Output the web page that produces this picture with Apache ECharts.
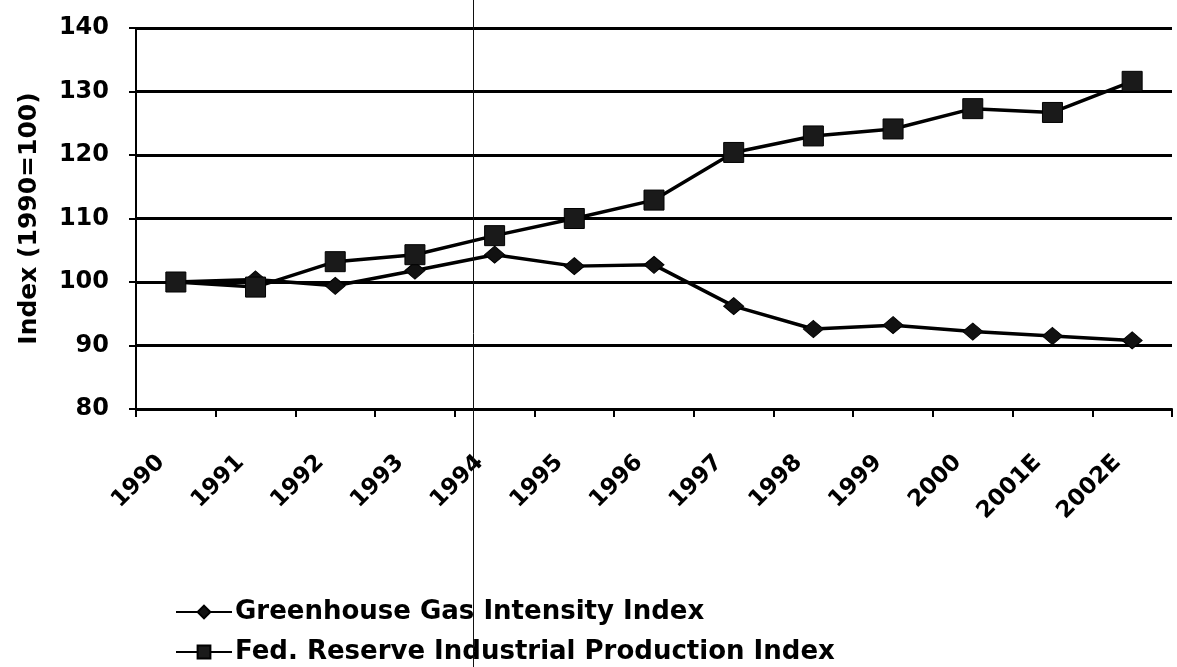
<!DOCTYPE html>
<html>
<head>
<meta charset="utf-8">
<script src="https://cdn.jsdelivr.net/npm/echarts@6/dist/echarts.min.js"></script>
<style>
  html, body { margin: 0; padding: 0; background: #fff; }
  #chart { width: 1177px; height: 667px; }
</style>
</head>
<body>
<div id="chart"></div>
<script>
var years = ['1990', '1991', '1992', '1993', '1994', '1995', '1996',
             '1997', '1998', '1999', '2000', '2001E', '2002E'];
var ghgIntensity = [100, 100.4, 99.4, 101.8, 104.3, 102.5, 102.7,
                    96.2, 92.6, 93.2, 92.2, 91.5, 90.8];
var industrialProd = [100, 99.2, 103.2, 104.3, 107.3, 110.0, 112.9,
                      120.4, 123.0, 124.1, 127.3, 126.7, 131.6];
var yTicks = { min: 80, max: 140, step: 10 };

var FONT = 'DejaVu Sans';

var chart = echarts.init(document.getElementById('chart'), null, { renderer: 'canvas' });

var option = {
    backgroundColor: '#fff',
    animation: false,
    grid: { left: 136, right: 5, top: 28, bottom: 258 },
    xAxis: {
        type: 'category',
        data: years,
        boundaryGap: true,
        axisLine: { lineStyle: { color: '#000', width: 2 } },
        axisTick: { show: true, length: 8, lineStyle: { color: '#000', width: 2 } },
        axisLabel: {
            rotate: 45, margin: 35, interval: 0, padding: [0, 21, 0, 0],
            color: '#000', fontFamily: FONT, fontWeight: 'bold', fontSize: 23
        },
        splitLine: { show: false }
    },
    yAxis: {
        type: 'value',
        min: yTicks.min, max: yTicks.max, interval: yTicks.step,
        name: 'Index (1990=100)',
        nameLocation: 'middle',
        nameGap: 94,
        nameTextStyle: { color: '#000', fontFamily: FONT, fontWeight: 'bold', fontSize: 25 },
        axisLine: { show: true, lineStyle: { color: '#000', width: 2 } },
        axisTick: { show: true, length: 7, lineStyle: { color: '#000', width: 2 } },
        axisLabel: {
            margin: 27,
            color: '#000', fontFamily: FONT, fontWeight: 'bold', fontSize: 24
        },
        splitLine: { show: true, lineStyle: { color: '#000', width: 3 } }
    },
    legend: {
        orient: 'vertical',
        left: 170, top: 594, height: 72,
        itemWidth: 56, itemHeight: 16, itemGap: 14,
        textStyle: {
            color: '#000', fontFamily: FONT, fontWeight: 'bold',
            fontSize: 26, lineHeight: 26, padding: [0, 0, 0, -2]
        },
        data: ['Greenhouse Gas Intensity Index', 'Fed. Reserve Industrial Production Index']
    },
    series: [
        {
            name: 'Greenhouse Gas Intensity Index',
            type: 'line',
            data: ghgIntensity,
            symbol: 'diamond',
            symbolSize: [20, 17],
            itemStyle: { color: '#111', borderColor: '#000', borderWidth: 1 },
            lineStyle: { color: '#000', width: 3.5 },
            z: 3
        },
        {
            name: 'Fed. Reserve Industrial Production Index',
            type: 'line',
            data: industrialProd,
            symbol: 'rect',
            symbolSize: 20,
            itemStyle: { color: '#1a1a1a', borderColor: '#000', borderWidth: 1 },
            lineStyle: { color: '#000', width: 3.5 },
            z: 4
        }
    ],
    graphic: [
        {
            // thin vertical scan streak crossing the page
            type: 'line',
            shape: { x1: 473.5, y1: 0, x2: 473.5, y2: 667 },
            style: { stroke: '#111', lineWidth: 1 },
            z: 100
        }
    ]
};

chart.setOption(option);
window.addEventListener('resize', chart.resize);
</script>
</body>
</html>
